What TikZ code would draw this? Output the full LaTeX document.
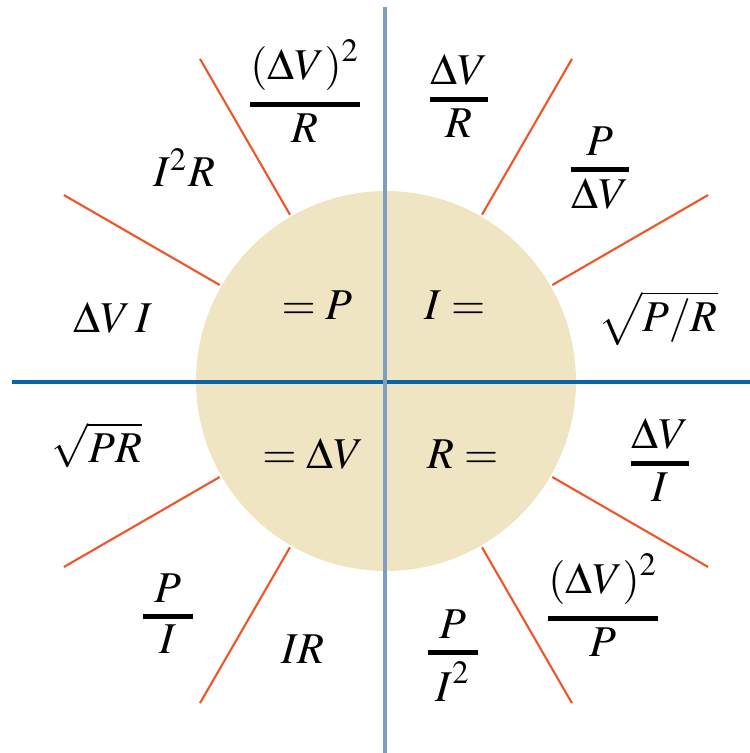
\documentclass[tikz,border=0pt]{standalone}
\usepackage{amsmath}
\usepackage{mathptmx}
\usetikzlibrary{positioning}
\definecolor{axisblue}{RGB}{10,100,165}
\definecolor{axisgrey}{RGB}{125,158,192}
\definecolor{discfill}{RGB}{240,229,195}
\definecolor{spoke}{RGB}{240,85,40}
\newcommand{\thickfrac}[2]{\vcenter{\offinterlineskip
  \halign{\hfil##\hfil\cr
    \omit\hskip14pt\cr
    $\displaystyle#1$\cr
    \noalign{\kern3.2pt\hrule height1.5pt\kern1.8pt}
    $\displaystyle#2$\cr}}}

\begin{document}
\begin{tikzpicture}[
  x=0.01cm, y=-0.01cm,
  term/.style = {inner sep=0pt, font=\fontsize{12.5}{15}\selectfont},
  ray/.style  = {draw=spoke, line width=0.6pt},
  axis/.style = {line width=1pt},
]
  \useasboundingbox (0,0) rectangle (750,753);
  \coordinate (c) at (386,381);

  % Disc and spokes
  \fill[discfill] (c) circle (190);
  \foreach \a in {30,60,120,150,210,240,300,330}
    \draw[ray] (c) ++(\a:192) -- ++(\a:180);

  % Axes
  \coordinate (vtop) at (385,7);
  \coordinate (vbot) at (385,753);
  \coordinate (hleft) at (12,382);
  \coordinate (hright) at (750,382);
  \draw[axis, axisblue] (hleft) -- (hright);
  \draw[axis, axisgrey] (vtop) -- (vbot);

  % Power
  \node[term] (eqP)    at (317,305) {$= P$};
  \node[term] (vSqR)   at (305,91)  {$\thickfrac{(\Delta V)^2}{R}$};
  \node[term] (iSqR)   at (184,168) {$I^2R$};
  \node[term] (vI)     at (113,318) {$\Delta V\, I$};

  % Current
  \node[term] (eqI)    at (455,305) {$I =$};
  \node[term] (vOverR) at (459,96)  {$\thickfrac{\Delta V}{R}$};
  \node[term] (pOverV) at (600,168) {$\thickfrac{P}{\Delta V}$};
  \node[term] (rootPR) at (658,318) {$\sqrt{P/R}$};

  % Voltage
  \node[term] (eqV)    at (313,454) {$= \Delta V$};
  \node[term] (rootPtR) at (97,445) {$\sqrt{PR}$};
  \node[term] (pOverI) at (168,614) {$\thickfrac{P}{I}$};
  \node[term] (iR)     at (303,649) {$IR$};

  % Resistance
  \node[term] (eqR)    at (463,454) {$R =$};
  \node[term] (vOverI) at (660,460) {$\thickfrac{\Delta V}{I}$};
  \node[term] (vSqP)   at (603,605) {$\thickfrac{(\Delta V)^2}{P}$};
  \node[term] (pOverISq) at (453,656) {$\thickfrac{P}{I^2}$};
\end{tikzpicture}
\end{document}
